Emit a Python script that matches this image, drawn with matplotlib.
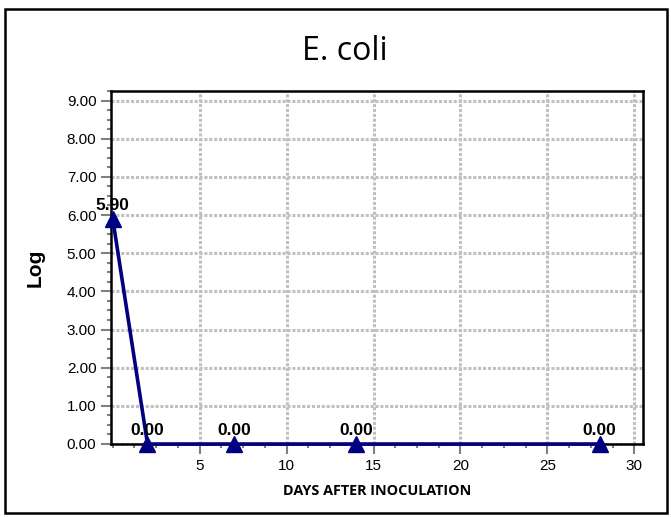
import matplotlib
matplotlib.use('Agg')
import matplotlib.pyplot as plt
from matplotlib.ticker import MultipleLocator, FormatStrFormatter
from matplotlib.patches import Rectangle

# data
days = [0, 2, 7, 14, 28]
logValues = [5.90, 0.00, 0.00, 0.00, 0.00]
pointLabels = ['5.90', '0.00', '0.00', '0.00', '0.00']
title = 'E. coli'
xLabel = 'DAYS AFTER INOCULATION'
yLabel = 'Log'

fig = plt.figure(figsize=(6.71, 5.17), dpi=100)
ax = fig.add_axes([0.1654, 0.1412, 0.7929, 0.6828])

# frame round the whole picture
W, H = 671.0, 517.0
fig.patches.append(Rectangle((5 / W, 4 / H), 662 / W, 504 / H, transform=fig.transFigure,
                             fill=False, edgecolor='black', linewidth=1.8))

ax.plot(days, logValues, color='#000080', linewidth=2.6, marker='^',
        markersize=11.5, clip_on=False, zorder=5)

for x, y, lbl in zip(days, logValues, pointLabels):
    ax.annotate(lbl, (x, y), xytext=(0, 6.5), textcoords='offset points',
                ha='center', va='baseline', fontsize=12.5, fontweight='bold',
                family='Liberation Sans', zorder=6)

ax.set_xlim(-0.1, 30.5)
ax.set_ylim(0, 9.25)
ax.xaxis.set_major_locator(MultipleLocator(5))
ax.xaxis.set_minor_locator(MultipleLocator(1.25))
ax.yaxis.set_major_locator(MultipleLocator(1))
ax.yaxis.set_minor_locator(MultipleLocator(0.25))
ax.yaxis.set_major_formatter(FormatStrFormatter('%.2f'))
ax.set_xticks([5, 10, 15, 20, 25, 30])

ax.tick_params(axis='both', which='major', direction='out', length=7, width=1.5,
               color='#808080', labelsize=11, pad=3.5)
ax.tick_params(axis='both', which='minor', direction='out', length=3, width=1.5,
               color='#808080')
for t in ax.get_xticklabels() + ax.get_yticklabels():
    t.set_family('Liberation Sans')

ax.grid(True, which='major', color='#c0c0c0', linestyle=(0, (1, 0.6)), linewidth=2.2)
ax.set_axisbelow(True)
for s in ax.spines.values():
    s.set_linewidth(1.8)

fig.text(345 / W, 1 - 51.5 / H, title, ha='center', va='center', fontsize=23,
         family='Open Sans')
ax.set_xlabel(xLabel, fontsize=10.4, fontweight='bold', family='Open Sans', labelpad=8)
ax.set_ylabel(yLabel, fontsize=15, fontweight='bold', family='Liberation Sans', labelpad=16)

fig.savefig('out.png', dpi=100)
